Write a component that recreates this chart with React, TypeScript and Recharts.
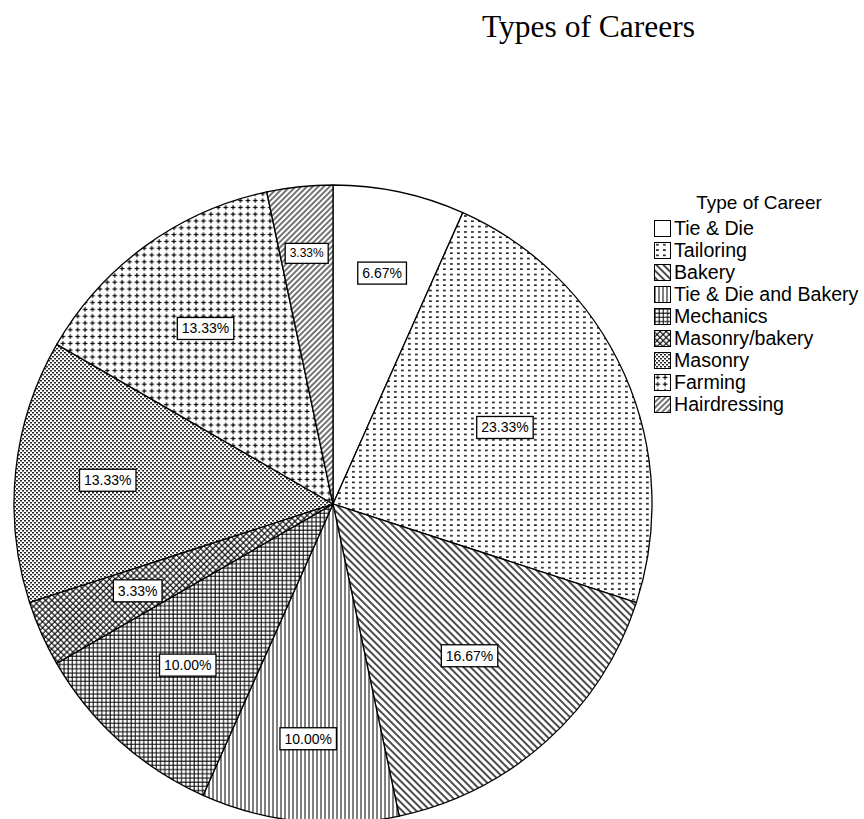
import React from 'react';
import { Cell, Legend, Pie, PieChart } from 'recharts';

const careers = [
  'Tie & Die',
  'Tailoring',
  'Bakery',
  'Tie & Die and Bakery',
  'Mechanics',
  'Masonry/bakery',
  'Masonry',
  'Farming',
  'Hairdressing',
];
const percents = [6.67, 23.33, 16.67, 10.0, 10.0, 3.33, 13.33, 13.33, 3.33];

const chartData = careers.map((name, i) => ({ name, value: percents[i] }));

// where each percentage box sits, as a share of the radius (the original places them unevenly)
const labelRadius = [0.74, 0.59, 0.64, 0.74, 0.68, 0.67, 0.71, 0.68, 0.79];

const sansFont = '"Liberation Sans", Arial, sans-serif';
const RADIAN = Math.PI / 180;

const fillId = (i: number) => `career-fill-${i}`;

const Patterns = () => (
  <defs>
    <pattern id={fillId(0)} width={4} height={4} patternUnits="userSpaceOnUse">
      <rect width={4} height={4} fill="#fff" />
    </pattern>
    <pattern id={fillId(1)} width={7} height={5.33} patternUnits="userSpaceOnUse">
      <rect width={7} height={5.33} fill="#fff" />
      <rect x={2} y={2} width={2.8} height={1.5} fill="#111" />
    </pattern>
    <pattern id={fillId(2)} width={5} height={5} patternUnits="userSpaceOnUse" patternTransform="rotate(-45)">
      <rect width={5} height={5} fill="#fff" />
      <line x1={1} y1={0} x2={1} y2={5} stroke="#000" strokeWidth={1.4} />
    </pattern>
    <pattern id={fillId(3)} width={4} height={4} patternUnits="userSpaceOnUse">
      <rect width={4} height={4} fill="#fff" />
      <line x1={1} y1={0} x2={1} y2={4} stroke="#000" strokeWidth={1} />
    </pattern>
    <pattern id={fillId(4)} width={4.2} height={4.2} patternUnits="userSpaceOnUse">
      <rect width={4.2} height={4.2} fill="#fff" />
      <line x1={1} y1={0} x2={1} y2={4.2} stroke="#000" strokeWidth={1} />
      <line x1={0} y1={1} x2={4.2} y2={1} stroke="#000" strokeWidth={1} />
    </pattern>
    <pattern id={fillId(5)} width={4.3} height={4.3} patternUnits="userSpaceOnUse" patternTransform="rotate(45)">
      <rect width={4.3} height={4.3} fill="#fff" />
      <line x1={1} y1={0} x2={1} y2={4.3} stroke="#000" strokeWidth={1.1} />
      <line x1={0} y1={1} x2={4.3} y2={1} stroke="#000" strokeWidth={1.1} />
    </pattern>
    <pattern id={fillId(6)} width={4} height={4} patternUnits="userSpaceOnUse">
      <rect width={4} height={4} fill="#fff" />
      <rect x={0} y={0} width={2} height={1.5} fill="#222" />
      <rect x={2} y={2} width={2} height={1.5} fill="#222" />
    </pattern>
    <pattern id={fillId(7)} width={7.4} height={6.8} patternUnits="userSpaceOnUse">
      <rect width={7.4} height={6.8} fill="#fff" />
      <line x1={1.4} y1={3.4} x2={6} y2={3.4} stroke="#000" strokeWidth={1.2} />
      <line x1={3.7} y1={1.1} x2={3.7} y2={5.7} stroke="#000" strokeWidth={1.2} />
    </pattern>
    <pattern id={fillId(8)} width={4} height={4} patternUnits="userSpaceOnUse" patternTransform="rotate(45)">
      <rect width={4} height={4} fill="#fff" />
      <line x1={1} y1={0} x2={1} y2={4} stroke="#000" strokeWidth={1.1} />
    </pattern>
  </defs>
);

const textWidth = (s: string, size: number) =>
  s.split('').reduce((w, c) => w + (c === '.' ? 0.278 : c === '%' ? 0.889 : 0.556), 0) * size;

const renderLabel = (props: any) => {
  const { cx, cy, midAngle, outerRadius, value, index } = props;
  const r = outerRadius * labelRadius[index];
  const x = cx + r * Math.cos(-midAngle * RADIAN);
  const y = cy + r * Math.sin(-midAngle * RADIAN);
  const text = `${Number(value).toFixed(2)}%`;
  const size = careers[index] === 'Hairdressing' ? 12 : 14;
  const w = textWidth(text, size) + 9;
  const h = size + 8;
  return (
    <g key={`lbl-${index}`}>
      <rect x={x - w / 2} y={y - h / 2} width={w} height={h} fill="#fff" stroke="#000" strokeWidth={1.3} />
      <text x={x} y={y} textAnchor="middle" dominantBaseline="central" fontFamily={sansFont} fontSize={size} fill="#000">
        {text}
      </text>
    </g>
  );
};

const renderLegend = () => (
  <div style={{ fontFamily: sansFont, color: '#000', lineHeight: '22px' }}>
    <div style={{ width: 210, textAlign: 'center', height: 25, fontSize: 19 }}>Type of Career</div>
    {careers.map((name, i) => (
      <div key={name} style={{ display: 'flex', alignItems: 'center', height: 22, whiteSpace: 'nowrap', fontSize: 19.6 }}>
        <svg width={18} height={17} style={{ display: 'block' }}>
          <rect x={0.5} y={0.5} width={16} height={16} fill={`url(#${fillId(i)})`} stroke="#000" strokeWidth={1} />
        </svg>
        <span style={{ marginLeft: 2 }}>{name}</span>
      </div>
    ))}
  </div>
);

const App = () => {
  return (
    <div style={{ position: 'fixed', left: 0, top: 0, width: 864, height: 819, background: '#fff', overflow: 'hidden' }}>
      <div
        style={{
          position: 'absolute',
          left: 482,
          top: 11,
          fontFamily: '"Liberation Serif", "Times New Roman", serif',
          fontSize: 31.5,
          lineHeight: 1,
          whiteSpace: 'nowrap',
        }}
      >
        Types of Careers
      </div>
      <PieChart width={864} height={819} margin={{ top: 0, right: 0, bottom: 0, left: 0 }}>
        <Patterns />
        <Pie
          data={chartData}
          dataKey="value"
          nameKey="name"
          cx={333}
          cy={504}
          outerRadius={319}
          startAngle={90}
          endAngle={-270}
          stroke="#000"
          strokeWidth={1.3}
          label={renderLabel}
          labelLine={false}
          isAnimationActive={false}
        >
          {chartData.map((d, i) => (
            <Cell key={d.name} fill={`url(#${fillId(i)})`} />
          ))}
        </Pie>
        <Legend
          content={renderLegend}
          wrapperStyle={{ position: 'absolute', left: 654, top: 192, width: 210 }}
        />
      </PieChart>
    </div>
  );
};

export default App;
